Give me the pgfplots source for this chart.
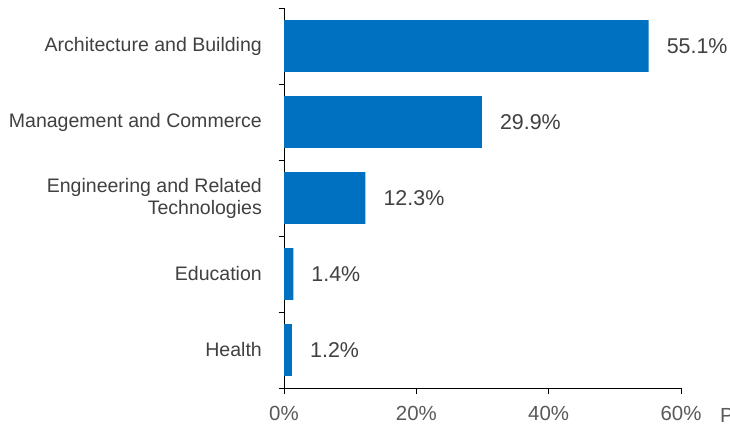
\documentclass[border=0pt]{standalone}
\usepackage{fontspec}
\setmainfont{Liberation Sans}
\usepackage{pgfplots}
\pgfplotsset{compat=1.18}
\definecolor{barblue}{RGB}{0,112,192}
\definecolor{txt}{RGB}{64,64,64}
\definecolor{ticktxt}{RGB}{89,89,89}
\begin{document}
\begin{tikzpicture}[x=1bp,y=1bp]
\path[use as bounding box] (0,0) rectangle (730,425);
\begin{axis}[
  at={(284bp,37bp)}, anchor=south west,
  scale only axis, width=397bp, height=380bp,
  xmin=0, xmax=60, ymin=-0.5, ymax=4.5, y dir=reverse,
  axis x line*=bottom, axis y line*=left,
  axis line style={black, line width=0.8bp, -},
  tick align=outside, major tick length=5.5bp,
  tick style={black, line width=0.8bp},
  /pgf/number format/assume math mode=true,
  xtick={0,20,40,60},
  xticklabels={0\%,20\%,40\%,60\%},
  xticklabel style={font=\fontsize{20.5}{24}\selectfont, text=ticktxt, inner sep=0pt, yshift=-13bp},
  ytick={-0.5,0.5,1.5,2.5,3.5,4.5},
  yticklabels={},
  extra y ticks={0,1,2,3,4},
  extra y tick labels={{Architecture and Building},{Management and Commerce},{Engineering and Related\\Technologies},{Education},{Health}},
  extra y tick style={major tick length=0pt, tick style={draw=none},
     yticklabel style={font=\fontsize{19.6}{22}\selectfont, text=txt, align=right, anchor=east, inner sep=0pt, xshift=-22bp}},
  clip=false,
]
\addplot[xbar, fill=barblue, draw=none, bar width=0.68,
  point meta=x,
  nodes near coords={\pgfmathprintnumber[fixed,precision=1,fixed zerofill,assume math mode=true]{\pgfplotspointmeta}\%},
  nodes near coords style={anchor=west, inner sep=0pt, xshift=18bp, font=\fontsize{21.5}{24}\selectfont, text=txt}]
  coordinates {(55.1,0) (29.9,1) (12.3,2) (1.4,3) (1.2,4)};
\end{axis}
\node[anchor=base west, inner sep=0pt, font=\fontsize{20.5}{24}\selectfont, text=ticktxt] at (720,3) {Per cent};
\end{tikzpicture}
\end{document}
